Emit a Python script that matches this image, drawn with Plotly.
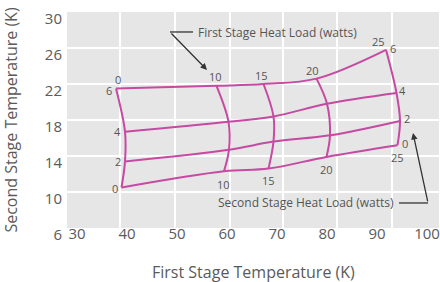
import plotly.graph_objects as go

# Heat loads (watts)
first_stage_loads = [0, 10, 15, 20, 25]
second_stage_loads = [0, 2, 4, 6]

# First stage temperature (K): rows = second stage load, cols = first stage load
t1_q2_0 = [38.9, 59.4, 68.3, 79.9, 94.1]
t1_q2_2 = [39.6, 60.4, 69.3, 80.6, 94.6]
t1_q2_4 = [39.6, 60.3, 69.3, 80.0, 93.9]
t1_q2_6 = [37.8, 57.9, 67.3, 77.9, 91.8]

# Second stage temperature (K)
t2_q2_0 = [10.5, 12.3, 12.6, 13.9, 15.2]
t2_q2_2 = [13.4, 14.7, 15.6, 16.3, 17.9]
t2_q2_4 = [16.7, 17.8, 18.4, 19.8, 21.0]
t2_q2_6 = [21.5, 21.8, 22.0, 22.6, 25.8]

x_ticks = [30, 40, 50, 60, 70, 80, 90, 100]
y_ticks = [6, 10, 14, 18, 22, 26, 30]

T1 = [t1_q2_0, t1_q2_2, t1_q2_4, t1_q2_6]
T2 = [t2_q2_0, t2_q2_2, t2_q2_4, t2_q2_6]

LINE = "#c64aa2"
TXT = "#555555"

fig = go.Figure()

# constant second-stage-load lines
for i, q2 in enumerate(second_stage_loads):
    fig.add_trace(go.Scatter(x=T1[i], y=T2[i], mode="lines",
                             line=dict(color=LINE, width=2, shape="spline", smoothing=1.0),
                             showlegend=False, hoverinfo="skip"))
# constant first-stage-load lines
for j, q1 in enumerate(first_stage_loads):
    xs = [T1[i][j] for i in range(len(second_stage_loads))]
    ys = [T2[i][j] for i in range(len(second_stage_loads))]
    fig.add_trace(go.Scatter(x=xs, y=ys, mode="lines",
                             line=dict(color=LINE, width=2, shape="spline", smoothing=1.0),
                             showlegend=False, hoverinfo="skip"))

lab_font = dict(family="Open Sans", size=11, color=TXT)

def lab(text, i, j, dx, dy):
    fig.add_annotation(x=T1[i][j], y=T2[i][j], text=text, showarrow=False,
                       xshift=dx, yshift=dy, font=lab_font)

# left column (first stage 0 W)
lab(str(first_stage_loads[0]), 3, 0, 2, 9)
lab(str(second_stage_loads[3]), 3, 0, -7, -2)
lab(str(second_stage_loads[2]), 2, 0, -8, 0)
lab(str(second_stage_loads[1]), 1, 0, -7, 0)
lab(str(second_stage_loads[0]), 0, 0, -7, -1)
# top labels (first stage loads)
lab(str(first_stage_loads[1]), 3, 1, -1, 9)
lab(str(first_stage_loads[2]), 3, 2, -2, 9)
lab(str(first_stage_loads[3]), 3, 3, -4, 8)
lab(str(first_stage_loads[4]), 3, 4, -8, 8)
# right labels (second stage loads)
lab(str(second_stage_loads[3]), 3, 4, 7, 1)
lab(str(second_stage_loads[2]), 2, 4, 6, 3)
lab(str(second_stage_loads[1]), 1, 4, 7, 2)
lab(str(second_stage_loads[0]), 0, 4, 7, 2)
# bottom labels (first stage loads)
lab(str(first_stage_loads[4]), 0, 4, 0, -12)
lab(str(first_stage_loads[1]), 0, 1, -1, -13)
lab(str(first_stage_loads[2]), 0, 2, 0, -12)
lab(str(first_stage_loads[3]), 0, 3, 0, -13)

note_font = dict(family="Open Sans", size=12, color=TXT)
ARR = "#333333"

# First stage callout
fig.add_annotation(x=53.8, y=27.67, text="First Stage Heat Load (watts)", showarrow=False,
                   xanchor="left", yanchor="middle", font=note_font)
fig.add_shape(type="line", x0=48.6, y0=27.78, x1=53.2, y1=27.78, line=dict(color=ARR, width=1.3))
fig.add_annotation(x=56.0, y=23.56, ax=48.6, ay=27.78, axref="x", ayref="y", text="",
                   showarrow=True, arrowhead=2, arrowsize=1, arrowwidth=1.3, arrowcolor=ARR)

# Second stage callout
fig.add_annotation(x=93.8, y=8.78, text="Second Stage Heat Load (watts)", showarrow=False,
                   xanchor="right", yanchor="middle", font=note_font)
fig.add_shape(type="line", x0=94.4, y0=8.78, x1=100.2, y1=8.78, line=dict(color=ARR, width=1.3))
fig.add_annotation(x=97.2, y=16.56, ax=100.2, ay=8.78, axref="x", ayref="y", text="",
                   showarrow=True, arrowhead=2, arrowsize=1, arrowwidth=1.3, arrowcolor=ARR)

tick_font = dict(family="Open Sans", size=15, color="#5a5a5a")
title_font = dict(family="Open Sans", size=16, color="#5a5a5a")

# x-axis title placed as a paper-anchored annotation below the tick labels
fig.add_annotation(x=0.5, y=-0.204, xref="paper", yref="paper", text="First Stage Temperature (K)",
                   showarrow=False, xanchor="center", yanchor="middle", font=title_font)

fig.update_layout(
    width=440, height=282,
    margin=dict(l=67, r=1, t=12, b=54),
    paper_bgcolor="white", plot_bgcolor="#e6e6e6",
    xaxis=dict(range=[28, 102.4], tickvals=x_ticks, showgrid=False, zeroline=False,
               showline=False, ticks="", tickfont=tick_font, automargin=False,
               ticklabelstandoff=-5, ticklabeloverflow="allow",
               minor=dict(tickvals=[38.6, 49.6, 60.6, 71.2, 82.0, 93.0], showgrid=True,
                          gridcolor="white", gridwidth=2, ticks="")),
    yaxis=dict(range=[6, 30], tickvals=y_ticks, showgrid=True, gridcolor="white", gridwidth=2,
               zeroline=False, showline=False, ticks="", tickfont=tick_font, automargin=False,
               ticklabelshift=7, ticklabelstandoff=4, ticklabeloverflow="allow",
               title=dict(text="Second Stage Temperature (K)", font=title_font, standoff=25)),
)

# remove the page's default body margin so the figure fills the window exactly
fig.write_html("out.html", config={"displayModeBar": False},
               post_script="document.body.style.margin='0';")
